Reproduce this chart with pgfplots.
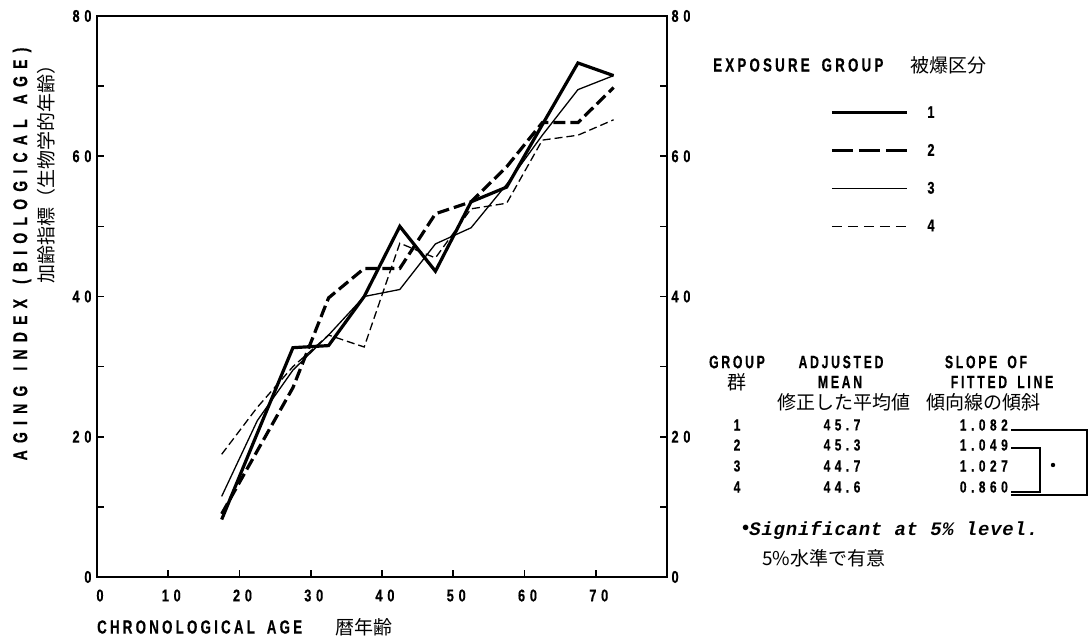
\documentclass[border=0pt]{standalone}
\usepackage{fontspec}
\usepackage{pgfplots}
\pgfplotsset{compat=1.18}
\newfontfamily\labfont[FakeStretch=0.7,LetterSpace=17,FakeBold=0.4]{Liberation Sans}
\newfontfamily\tabfont[FakeStretch=0.68,LetterSpace=15,FakeBold=0.4]{Liberation Sans}
\newfontfamily\ylabfont[FakeStretch=0.7,LetterSpace=36,FakeBold=0.4]{Liberation Sans}
\newfontfamily\numfont[FakeStretch=0.75,LetterSpace=28,FakeBold=0.4]{Liberation Sans}
\newfontfamily\sigfont[LetterSpace=4]{Liberation Mono}
\newfontfamily\cjk{Noto Sans CJK JP}
\newcommand{\lab}{\fontsize{19bp}{22bp}\labfont\bfseries}
\newcommand{\tab}{\fontsize{18bp}{21bp}\tabfont\bfseries}
\newcommand{\num}{\fontsize{17bp}{20bp}\numfont\bfseries}
\newcommand{\jp}{\fontsize{19bp}{22bp}\cjk}

\begin{document}
\begin{tikzpicture}
\path[use as bounding box] (0,0) rectangle (1089bp,640bp);

\begin{axis}[
  at={(97bp,63bp)}, anchor=south west,
  scale only axis, width=570bp, height=561bp,
  xmin=0, xmax=80, ymin=0, ymax=80,
  xtick={0,10,...,70}, ytick={0,20,...,80},
  minor ytick={10,30,50,70},
  xtick pos=bottom,
  tick align=inside,
  major tick length=7bp, minor tick length=7bp,
  tick style={line width=1.6bp, black},
  axis line style={line width=2.4bp},
  /pgf/number format/assume math mode=true,
  ticklabel style={font=\num},
  xticklabel style={yshift=-9bp, xshift=3bp},
  yticklabel style={xshift=-2bp},
  clip=false,
  legend style={at={(1.286,0.843)}, anchor=north west, draw=none, fill=none,
    inner sep=0pt, row sep=20.5bp, font=\num,
    nodes={inner xsep=19bp}},
  legend cell align=left,
]
\addlegendimage{legend image code/.code={\draw[line width=3.2bp] (0bp,0bp) -- (75bp,0bp);}}
\addlegendentry{1}
\addlegendimage{legend image code/.code={\draw[line width=3.2bp, dash pattern=on 21bp off 6bp] (0bp,0bp) -- (75bp,0bp);}}
\addlegendentry{2}
\addlegendimage{legend image code/.code={\draw[line width=1.3bp] (0bp,0bp) -- (75bp,0bp);}}
\addlegendentry{3}
\addlegendimage{legend image code/.code={\draw[line width=1.3bp, dash pattern=on 10bp off 6bp] (0bp,0bp) -- (75bp,0bp);}}
\addlegendentry{4}

% group 1
\addplot[forget plot, black, line width=3.2bp, line join=miter] coordinates {
 (17.5,8.2) (22.5,20.5) (27.5,32.7) (32.5,33.0) (37.5,40.0) (42.5,50.0)
 (47.5,43.6) (52.5,53.5) (57.5,55.6) (62.5,64.5) (67.5,73.3) (72.5,71.5)};
% group 2
\addplot[forget plot, black, line width=3.2bp, dash pattern=on 12bp off 5bp] coordinates {
 (17.5,9.0) (22.5,18.0) (27.5,27.0) (32.5,39.8) (37.5,44.0) (42.5,44.0)
 (47.5,51.8) (52.5,53.5) (57.5,58.5) (62.5,64.8) (67.5,64.8) (72.5,69.8)};
% group 3
\addplot[forget plot, black, line width=1.3bp] coordinates {
 (17.5,11.5) (22.5,22.3) (27.5,29.5) (32.5,34.5) (37.5,40.0) (42.5,41.0)
 (47.5,47.5) (52.5,49.8) (57.5,56.0) (62.5,63.0) (67.5,69.5) (72.5,71.5)};
% group 4
\addplot[forget plot, black, line width=1.3bp, dash pattern=on 8bp off 4bp] coordinates {
 (17.5,17.5) (22.5,24.2) (27.5,30.0) (32.5,34.5) (37.5,32.8) (42.5,47.6)
 (47.5,45.5) (52.5,52.5) (57.5,53.3) (62.5,62.3) (67.5,63.0) (72.5,65.2)};
\end{axis}

% right-hand tick labels
\begin{axis}[
  at={(97bp,63bp)}, anchor=south west,
  scale only axis, width=570bp, height=561bp,
  xmin=0, xmax=80, ymin=0, ymax=80,
  axis x line=none, axis y line*=right,
  y axis line style={draw=none},
  ytick={0,20,...,80}, major tick length=0pt,
  /pgf/number format/assume math mode=true,
  yticklabel style={font=\num, xshift=1bp},
]
\end{axis}

% axis titles
\node[anchor=west, inner sep=0] at (97bp,13bp) {\lab CHRONOLOGICAL\hspace{5bp} AGE};
\node[anchor=west, inner sep=0] at (335bp,13bp) {\jp 暦年齢};
\node[rotate=90, inner sep=0] at (22bp,386bp) {\fontsize{20bp}{23bp}\ylabfont\bfseries AGING\hspace{4bp} INDEX\hspace{4bp} (BIOLOGICAL\hspace{4bp} AGE)};
\node[rotate=90, inner sep=0] at (46bp,470bp) {\jp 加齢指標（生物学的年齢）};

% legend title
\node[anchor=west, inner sep=0] at (713bp,575bp) {\lab EXPOSURE\hspace{5bp} GROUP};
\node[anchor=west, inner sep=0] at (910bp,575bp) {\jp 被爆区分};

% table
\node[inner sep=0] at (737bp,278bp) {\tab GROUP};
\node[inner sep=0] at (841bp,278bp) {\tab ADJUSTED};
\node[inner sep=0] at (986bp,278bp) {\tab SLOPE\hspace{4bp} OF};
\node[inner sep=0] at (737bp,258bp) {\jp 群};
\node[inner sep=0] at (840bp,258bp) {\tab MEAN};
\node[inner sep=0] at (1002bp,258bp) {\tab FITTED\hspace{4bp} LINE};
\node[inner sep=0] at (844bp,238bp) {\jp 修正した平均値};
\node[inner sep=0] at (983bp,238bp) {\jp 傾向線の傾斜};
\foreach \g/\m/\s/\y in {1/45.7/1.082/215, 2/45.3/1.049/195, 3/44.7/1.027/174, 4/44.6/0.860/153}{
  \node[inner sep=0] at (737bp,\y bp) {\fontsize{16bp}{19bp}\numfont\bfseries \g};
  \node[inner sep=0] at (842bp,\y bp) {\fontsize{16bp}{19bp}\numfont\bfseries \m};
  \node[inner sep=0, anchor=east] at (1008bp,\y bp) {\fontsize{16bp}{19bp}\numfont\bfseries \s};
}
\draw[line width=1.8bp] (1011bp,210bp) -- (1087bp,210bp) -- (1087bp,145bp) -- (1011bp,145bp);
\draw[line width=1.8bp] (1011bp,192bp) -- (1040bp,192bp) -- (1040bp,148bp) -- (1011bp,148bp);
\fill (1053bp,175bp) circle (2.2bp);

\node[anchor=west, inner sep=0] at (742bp,110bp) {\fontsize{19bp}{22bp}\sigfont\bfseries\itshape \raisebox{0.35ex}{\fontsize{15bp}{15bp}\selectfont$\bullet$}Significant at 5\% level.};
\node[anchor=west, inner sep=0] at (762bp,82bp) {\jp 5\%水準で有意};
\end{tikzpicture}
\end{document}
